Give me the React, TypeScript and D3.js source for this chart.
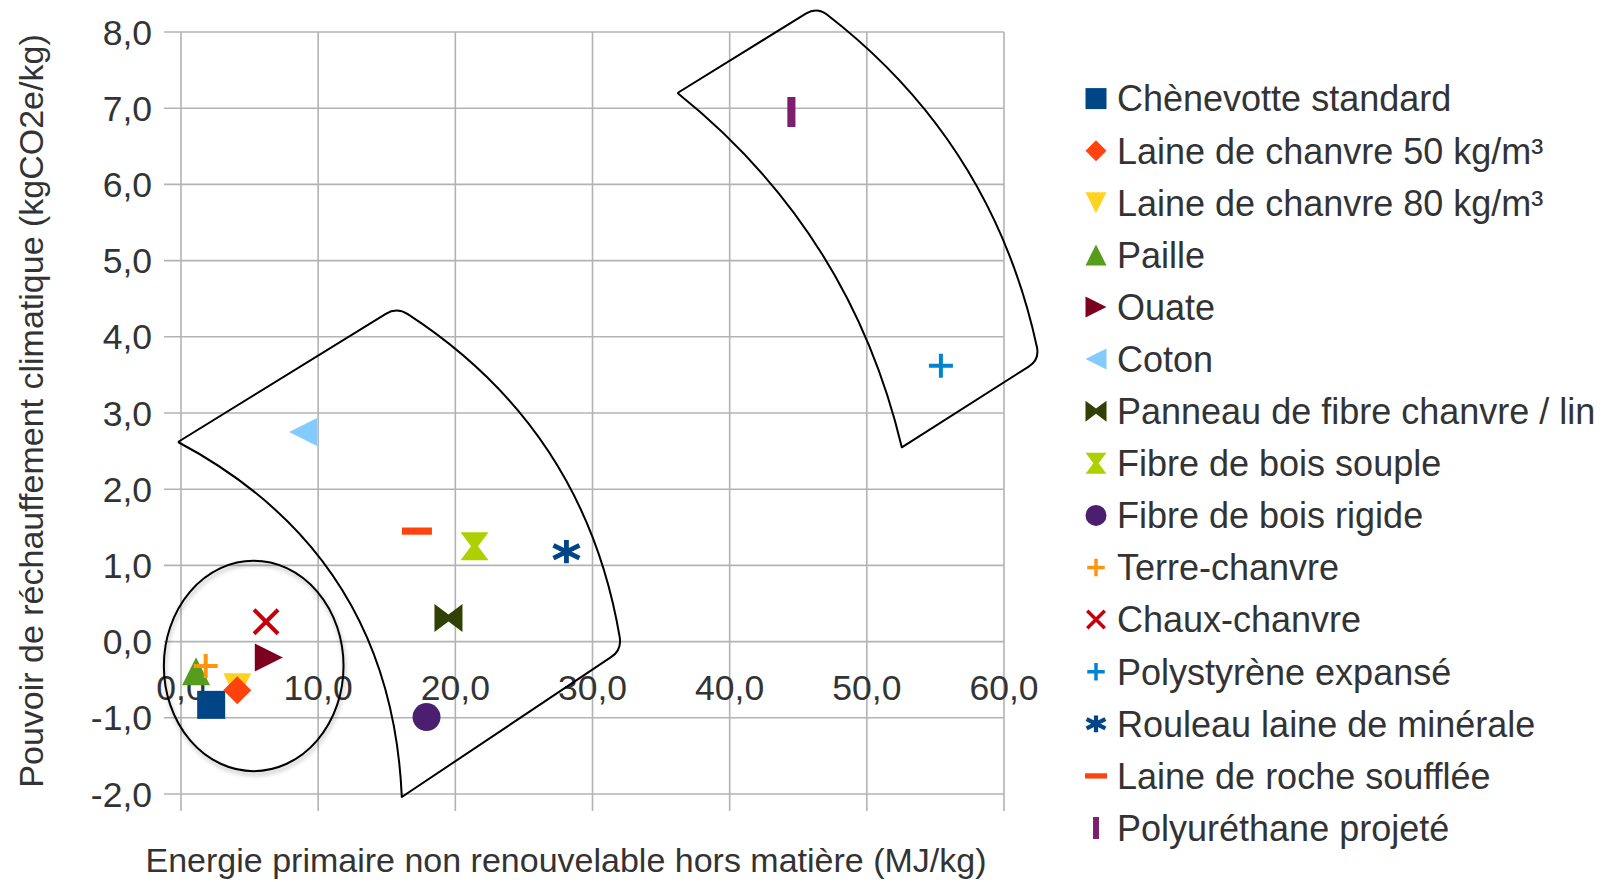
import React from "react";
import * as d3 from "d3";

const WIDTH = 1611;
const HEIGHT = 882;

// Insulation materials: non-renewable primary energy (MJ/kg) vs global warming potential (kgCO2e/kg)
const materials = [
  "Chènevotte standard",
  "Laine de chanvre 50 kg/m³",
  "Laine de chanvre 80 kg/m³",
  "Paille",
  "Ouate",
  "Coton",
  "Panneau de fibre chanvre / lin",
  "Fibre de bois souple",
  "Fibre de bois rigide",
  "Terre-chanvre",
  "Chaux-chanvre",
  "Polystyrène expansé",
  "Rouleau laine de minérale",
  "Laine de roche soufflée",
  "Polyuréthane projeté",
];
const energy = [2.2, 4.1, 4.1, 1.1, 6.4, 8.9, 19.5, 21.4, 17.9, 1.8, 6.2, 55.4, 28.1, 17.2, 44.5];
const warming = [-0.83, -0.64, -0.6, -0.39, -0.21, 2.75, 0.31, 1.25, -0.99, -0.32, 0.26, 3.62, 1.18, 1.45, 6.95];
const colors = [
  "#004586", "#ff420e", "#ffd320", "#579d1c", "#7e0021", "#83caff", "#314004", "#aecf00",
  "#4b1f6f", "#ff950e", "#c5000b", "#0084d1", "#004586", "#ff420e", "#7e1e6e",
];
const symbols = [
  "square", "diamond", "triDown", "triUp", "triRight", "triLeft", "bowtie", "hourglass",
  "circle", "plus", "cross", "plus", "asterisk", "hbar", "vbar",
];
// paint order of the markers (the 80 kg/m³ triangle sits under the 50 kg/m³ diamond)
const drawOrder = [2, 0, 1, 3, 4, 5, 6, 7, 8, 9, 10, 11, 12, 13, 14];

const xTicks = [0, 10, 20, 30, 40, 50, 60];
const yTicks = [-2, -1, 0, 1, 2, 3, 4, 5, 6, 7, 8];

const xTitle = "Energie primaire non renouvelable hors matière (MJ/kg)";
const yTitle = "Pouvoir de réchauffement climatique (kgCO2e/kg)";

// hand-drawn groupings, in data units: [x, y]
const bandMiddle = { p1: [-0.22, 2.62], p2: [15.74, 4.39], p3: [32.14, -0.11], p4: [16.1, -2.04], bowR: 45, bowL: 60 };
const bandRight = { p1: [36.2, 7.2], p2: [46.36, 8.33], p3: [62.6, 3.7], p4: [52.55, 2.55], bowR: 38, bowL: 36 };
const ringCenter = [5.3, -0.32];
const ringRadii = [6.55, 1.38];

const FONT = "'Liberation Sans', Arial, sans-serif";
const TEXT = "#333333";
const GRID = "#b3b3b3";

const frFormat = d3
  .formatLocale({ decimal: ",", thousands: " ", grouping: [3], currency: ["", " €"], minus: "-" })
  .format(".1f");

const STROKED = new Set(["plus", "cross", "asterisk"]);

function markerPath(kind: string, s: number): string {
  const h = s / 2;
  switch (kind) {
    case "square":
      return `M${-h},${-h}H${h}V${h}H${-h}Z`;
    case "diamond":
      return `M0,${-h}L${h},0L0,${h}L${-h},0Z`;
    case "triDown":
      return `M${-h},${-h}L${h},${-h}L0,${h}Z`;
    case "triUp":
      return `M0,${-h}L${h},${h}L${-h},${h}Z`;
    case "triRight":
      return `M${-h},${-h}L${h},0L${-h},${h}Z`;
    case "triLeft":
      return `M${h},${-h}L${-h},0L${h},${h}Z`;
    case "bowtie":
      return `M${-h},${-h}L0,${-h * 0.25}L${h},${-h}L${h},${h}L0,${h * 0.25}L${-h},${h}Z`;
    case "hourglass":
      return `M${-h},${-h}L${h},${-h}L${h * 0.25},0L${h},${h}L${-h},${h}L${-h * 0.25},0Z`;
    case "circle":
      return `M${h},0A${h},${h} 0 1,1 ${-h},0A${h},${h} 0 1,1 ${h},0Z`;
    case "plus":
      return `M${-h},0H${h}M0,${-h}V${h}`;
    case "cross":
      return `M${-h},${-h}L${h},${h}M${h},${-h}L${-h},${h}`;
    case "asterisk": {
      // vertical arm plus two long diagonals, wider than tall
      const c = h * 1.12;
      const sn = h * 0.55;
      return `M0,${-h}V${h}M${-c},${-sn}L${c},${sn}M${-c},${sn}L${c},${-sn}`;
    }
    case "hbar":
      return `M${-h},${-s * 0.12}H${h}V${s * 0.12}H${-h}Z`;
    case "vbar":
      return `M${-s * 0.135},${-h}H${s * 0.135}V${h}H${-s * 0.135}Z`;
    default:
      return "";
  }
}

function Marker({ kind, color, size, x, y, sw }: { kind: string; color: string; size: number; x: number; y: number; sw: number }) {
  const stroked = STROKED.has(kind);
  const w = kind === "asterisk" ? sw * 1.2 : sw;
  const s = stroked ? size - w : size;
  return (
    <path
      transform={`translate(${x},${y})`}
      d={markerPath(kind, s)}
      fill={stroked ? "none" : color}
      stroke={stroked ? color : "none"}
      strokeWidth={stroked ? w : 0}
    />
  );
}

type Pt = [number, number];

function bowControl(a: Pt, b: Pt, sag: number): Pt {
  // a is the upper end, b the lower; bow towards the upper-right side
  const dx = b[0] - a[0];
  const dy = b[1] - a[1];
  const len = Math.hypot(dx, dy);
  const nx = dy / len;
  const ny = -dx / len;
  return [(a[0] + b[0]) / 2 + nx * sag * 2, (a[1] + b[1]) / 2 + ny * sag * 2];
}

function toward(p: Pt, q: Pt, r: number): Pt {
  const dx = q[0] - p[0];
  const dy = q[1] - p[1];
  const len = Math.hypot(dx, dy);
  return [p[0] + (dx / len) * r, p[1] + (dy / len) * r];
}

function bandPath(band: typeof bandMiddle, sx: d3.ScaleLinear<number, number>, sy: d3.ScaleLinear<number, number>): string {
  const P = (v: number[]): Pt => [sx(v[0]), sy(v[1])];
  const p1 = P(band.p1);
  const p2 = P(band.p2);
  const p3 = P(band.p3);
  const p4 = P(band.p4);
  const cR = bowControl(p2, p3, band.bowR);
  const cL = bowControl(p1, p4, band.bowL);
  const r = 13;
  const a = toward(p2, p1, r);
  const b = toward(p2, cR, r);
  const c = toward(p3, cR, r);
  const d = toward(p3, p4, r);
  const f = (p: Pt) => `${p[0].toFixed(1)},${p[1].toFixed(1)}`;
  return `M${f(p1)}L${f(a)}Q${f(p2)} ${f(b)}Q${f(cR)} ${f(c)}Q${f(p3)} ${f(d)}L${f(p4)}Q${f(cL)} ${f(p1)}`;
}

export default function App() {
  const x = d3.scaleLinear().domain([0, 60]).range([181, 1004]);
  const y = d3.scaleLinear().domain([-2, 8]).range([794, 32]);
  const [x0, x1] = x.range();
  const [yB, yT] = y.range();
  const tickLen = 17;

  const legendX = 1096;
  const legendTextX = 1117;
  const legendY0 = 98.6;
  const legendStep = 52.1;

  const chartSize = (k: string) => (k === "hbar" || k === "vbar" ? 30 : k === "asterisk" ? 28 : 28);
  const legendSize = (k: string) => (k === "hbar" || k === "vbar" ? 22 : 21);

  return (
    <svg
      width={WIDTH}
      height={HEIGHT}
      viewBox={`0 0 ${WIDTH} ${HEIGHT}`}
      style={{ position: "absolute", left: 0, top: 0, background: "#fff" }}
      fontFamily={FONT}
    >
      <defs>
        <filter id="softShadow" x="-20%" y="-20%" width="140%" height="150%">
          <feDropShadow dx="1" dy="3" stdDeviation="2" floodColor="#000" floodOpacity="0.3" />
        </filter>
      </defs>
      <rect width={WIDTH} height={HEIGHT} fill="#fff" />

      {/* grid */}
      <g stroke={GRID} strokeWidth={1.6}>
        {yTicks.map((t) => (
          <line key={`gy${t}`} x1={x0 - tickLen} x2={x1} y1={y(t)} y2={y(t)} />
        ))}
        {xTicks.map((t) => (
          <line key={`gx${t}`} x1={x(t)} x2={x(t)} y1={yT} y2={yB + tickLen} />
        ))}
      </g>

      {/* tick labels */}
      <g fill={TEXT} fontSize={35.5}>
        {yTicks.map((t) => (
          <text key={`ly${t}`} x={152} y={y(t) + 12.5} textAnchor="end">
            {frFormat(t)}
          </text>
        ))}
        {xTicks.map((t) => (
          <text key={`lx${t}`} x={x(t)} y={y(0) + 58} textAnchor="middle">
            {frFormat(t)}
          </text>
        ))}
      </g>

      {/* axis titles */}
      <text x={566} y={872} textAnchor="middle" fontSize={34} fill={TEXT}>
        {xTitle}
      </text>
      <text transform="translate(43,411) rotate(-90)" textAnchor="middle" fontSize={34} fill={TEXT}>
        {yTitle}
      </text>

      {/* markers */}
      <g>
        {drawOrder.map((i) => (
          <Marker
            key={`m${i}`}
            kind={symbols[i]}
            color={colors[i]}
            size={chartSize(symbols[i])}
            x={x(energy[i])}
            y={y(warming[i])}
            sw={4}
          />
        ))}
      </g>

      {/* hand-drawn groupings */}
      <g fill="none" stroke="#000" strokeWidth={2} strokeLinejoin="round">
        <ellipse
          cx={x(ringCenter[0])}
          cy={y(ringCenter[1])}
          rx={x(ringRadii[0]) - x(0)}
          ry={y(0) - y(ringRadii[1])}
          filter="url(#softShadow)"
        />
        <path d={bandPath(bandMiddle, x, y)} />
        <path d={bandPath(bandRight, x, y)} />
      </g>

      {/* legend */}
      <g>
        {materials.map((name, i) => {
          const cy = legendY0 + i * legendStep;
          return (
            <g key={`lg${i}`}>
              <Marker kind={symbols[i]} color={colors[i]} size={legendSize(symbols[i])} x={legendX} y={cy} sw={3.5} />
              <text x={legendTextX} y={cy + 12.8} fontSize={36} fill={TEXT}>
                {name}
              </text>
            </g>
          );
        })}
      </g>
    </svg>
  );
}
